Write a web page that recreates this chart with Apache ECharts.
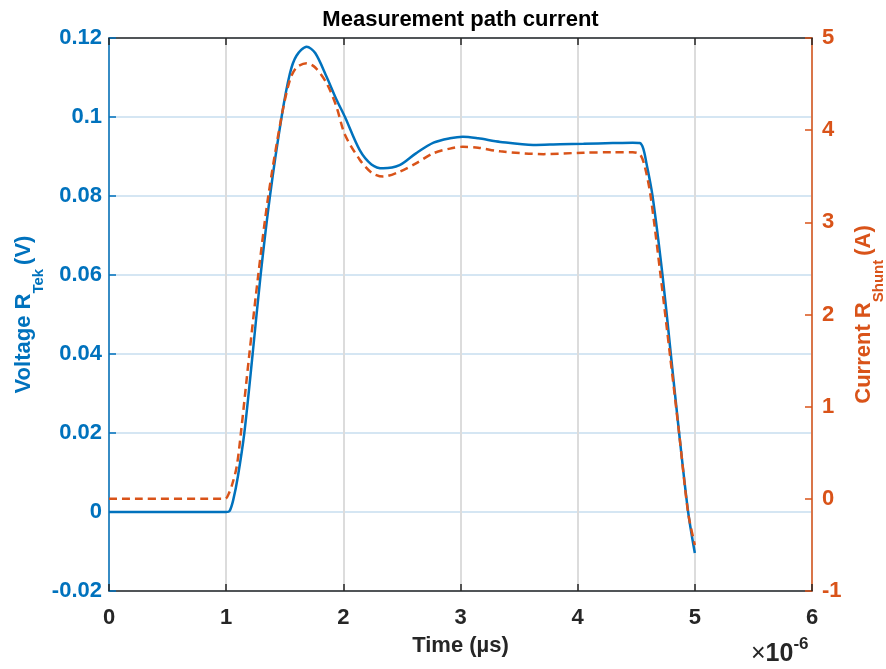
<!DOCTYPE html>
<html>
<head>
<meta charset="utf-8">
<script src="https://cdn.jsdelivr.net/npm/echarts@6/dist/echarts.min.js"></script>
<style>html,body{margin:0;padding:0;background:#fff}#c{width:886px;height:669px}</style>
</head>
<body>
<div id="c"></div>
<script>
// Time in microseconds (axis shown with ×10^-6 scale)
const timeV = [0, 1.0, 1.03, 1.06, 1.10, 1.155, 1.226, 1.294, 1.374, 1.473, 1.544, 1.60, 1.687, 1.76, 1.857, 1.94, 2.014, 2.14, 2.24, 2.34, 2.48, 2.62, 2.77, 2.91, 3.02, 3.15, 3.34, 3.62, 3.85, 4.05, 4.30, 4.47, 4.53, 4.56, 4.587, 4.639, 4.724, 4.795, 4.866, 4.943, 5.0];
const voltage = [0, 0, 0.0003, 0.003, 0.009, 0.02, 0.04, 0.06, 0.08, 0.10, 0.111, 0.1155, 0.1178, 0.1162, 0.1102, 0.1045, 0.100, 0.0916, 0.0880, 0.0870, 0.0878, 0.0908, 0.0935, 0.0946, 0.0950, 0.0946, 0.0937, 0.0929, 0.0931, 0.0932, 0.0934, 0.0935, 0.0934, 0.0920, 0.0883, 0.08, 0.06, 0.04, 0.02, 0.0, -0.0104];
const timeI = [0, 0.99, 1.02, 1.05, 1.09, 1.126, 1.197, 1.274, 1.359, 1.473, 1.544, 1.60, 1.687, 1.76, 1.857, 1.94, 2.014, 2.14, 2.24, 2.34, 2.48, 2.62, 2.77, 2.91, 3.02, 3.15, 3.34, 3.71, 4.05, 4.30, 4.47, 4.53, 4.57, 4.622, 4.707, 4.787, 4.866, 4.943, 5.0];
const current = [0, 0, 0.05, 0.15, 0.35, 0.716, 1.56, 2.43, 3.28, 4.15, 4.545, 4.68, 4.726, 4.68, 4.51, 4.26, 3.95, 3.68, 3.54, 3.496, 3.55, 3.64, 3.75, 3.80, 3.82, 3.81, 3.77, 3.74, 3.756, 3.76, 3.76, 3.74, 3.62, 3.29, 2.43, 1.57, 0.71, -0.155, -0.50];
const xTicks = [0, 1, 2, 3, 4, 5, 6];
const leftTicks = [-0.02, 0, 0.02, 0.04, 0.06, 0.08, 0.1, 0.12];
const rightTicks = [-1, 0, 1, 2, 3, 4, 5];

const BLUE = '#0072BD', ORANGE = '#D95319', DARK = '#262626';
const FONT = '"Liberation Sans", Arial, Helvetica, sans-serif';
const FS = 22;

const chart = echarts.init(document.getElementById('c'), null, {renderer: 'canvas'});
const pairs = (xs, ys) => xs.map((x, i) => [x, ys[i]]);

const nameRich = (color) => ({
  a: {fontFamily: FONT, fontSize: FS, fontWeight: 'bold', color: color, lineHeight: 24, verticalAlign: 'top'},
  b: {fontFamily: FONT, fontSize: FS, fontWeight: 'bold', color: color, lineHeight: 24, verticalAlign: 'top', padding: [0, 0, 0, 4]},
  s: {fontFamily: FONT, fontSize: 15, fontWeight: 'bold', color: color, lineHeight: 14, verticalAlign: 'top', padding: [18, 0, 0, 0]}
});

chart.setOption({
  animation: false,
  backgroundColor: '#fff',
  textStyle: {fontFamily: FONT},
  grid: {left: 109, right: 74, top: 38, bottom: 78, containLabel: false, outerBoundsMode: 'none'},
  graphic: [
    {type: 'text', x: 460.5, y: 20, silent: true,
     style: {text: 'Measurement path current', font: 'bold 22px ' + FONT, fill: '#000',
             textAlign: 'center', textVerticalAlign: 'middle', align: 'center', verticalAlign: 'middle'}},
    {type: 'text', left: 751, top: 636, silent: true,
     style: {
       rich: {
         x: {fontFamily: FONT, fontSize: 25, fill: DARK, fontWeight: 'normal', lineHeight: 24, verticalAlign: 'top', padding: [6, 0, 0, 0]},
         a: {fontFamily: FONT, fontSize: 25, fontWeight: 'bold', fill: DARK, lineHeight: 24, verticalAlign: 'top', padding: [6, 0, 0, 0]},
         s: {fontFamily: FONT, fontSize: 17, fontWeight: 'bold', fill: DARK, lineHeight: 16, verticalAlign: 'top'}
       },
       text: '{x|×}{a|10}{s|-6}'
     }}
  ],
  xAxis: [
    {type: 'value', min: xTicks[0], max: xTicks[xTicks.length - 1], interval: 1, position: 'bottom',
     name: 'Time (µs)', nameLocation: 'middle', nameGap: 44, nameMoveOverlap: false,
     nameTextStyle: {fontFamily: FONT, fontSize: FS, fontWeight: 'bold', color: DARK},
     axisLine: {show: true, onZero: false, lineStyle: {color: DARK, width: 1.5}},
     axisTick: {show: true, inside: true, length: 7, lineStyle: {color: DARK, width: 1.5}},
     axisLabel: {fontFamily: FONT, fontSize: FS, fontWeight: 'bold', color: DARK, margin: 16},
     splitLine: {show: true, lineStyle: {color: '#dcdcdc', width: 2}}},
    {type: 'value', min: xTicks[0], max: xTicks[xTicks.length - 1], interval: 1, position: 'top',
     axisLine: {show: true, onZero: false, lineStyle: {color: DARK, width: 1.5}},
     axisTick: {show: true, inside: true, length: 7, lineStyle: {color: DARK, width: 1.5}},
     axisLabel: {show: false}, splitLine: {show: false}}
  ],
  yAxis: [
    {type: 'value', min: leftTicks[0], max: leftTicks[leftTicks.length - 1], interval: 0.02, position: 'left',
     name: '{a|Voltage R}{s|Tek}{b|(V)}', nameLocation: 'middle', nameRotate: 90, nameGap: 72, nameMoveOverlap: false,
     nameTextStyle: {rich: nameRich(BLUE)},
     axisLine: {show: true, onZero: false, lineStyle: {color: BLUE, width: 1.5}},
     axisTick: {show: true, inside: true, length: 7, lineStyle: {color: BLUE, width: 1.5}},
     axisLabel: {fontFamily: FONT, fontSize: FS, fontWeight: 'bold', color: BLUE, margin: 7,
       formatter: v => String(Math.round(v * 100) / 100)},
     splitLine: {show: true, lineStyle: {color: '#d5e6f3', width: 2}}},
    {type: 'value', min: rightTicks[0], max: rightTicks[rightTicks.length - 1], interval: 1, position: 'right',
     name: '{a|Current R}{s|Shunt}{b|(A)}', nameLocation: 'middle', nameRotate: 90, nameGap: 41, nameMoveOverlap: false,
     nameTextStyle: {rich: nameRich(ORANGE)},
     axisLine: {show: true, onZero: false, lineStyle: {color: ORANGE, width: 1.5}},
     axisTick: {show: true, inside: true, length: 7, lineStyle: {color: ORANGE, width: 1.5}},
     axisLabel: {fontFamily: FONT, fontSize: FS, fontWeight: 'bold', color: ORANGE, margin: 10},
     splitLine: {show: false}}
  ],
  series: [
    {name: 'Voltage', type: 'line', xAxisIndex: 0, yAxisIndex: 0, data: pairs(timeV, voltage),
     showSymbol: false, smooth: 0.3, lineStyle: {color: BLUE, width: 2.5}, z: 3},
    {name: 'Current', type: 'line', xAxisIndex: 0, yAxisIndex: 1, data: pairs(timeI, current),
     showSymbol: false, smooth: 0.3, lineStyle: {color: ORANGE, width: 2.5, type: [8, 5]}, z: 4}
  ]
});
</script>
</body>
</html>
